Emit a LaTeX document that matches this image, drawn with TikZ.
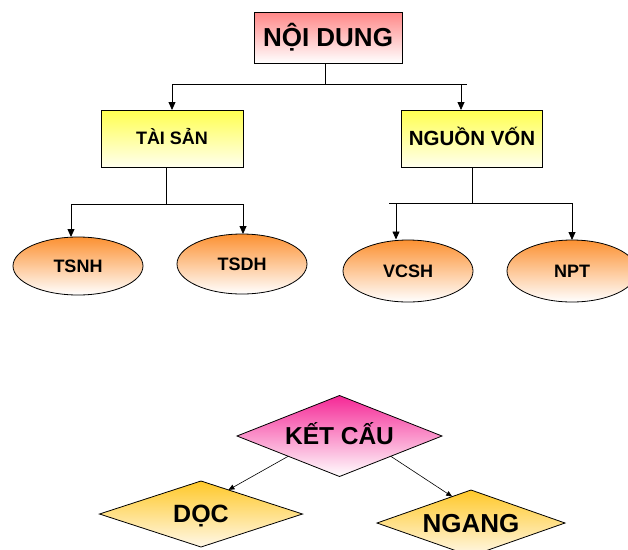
\documentclass[tikz,border=0pt]{standalone}
\usepackage{fontspec}
\setmainfont{Liberation Sans}[BoldFont={Liberation Sans Bold}]
\usetikzlibrary{shapes.geometric,arrows.meta,calc}
\definecolor{salmon}{RGB}{255,135,135}
\definecolor{yel}{RGB}{255,255,80}
\definecolor{yelb}{RGB}{255,255,238}
\definecolor{orng}{RGB}{252,145,50}
\definecolor{mag}{RGB}{245,40,150}
\definecolor{gold}{RGB}{255,200,40}
\definecolor{goldb}{RGB}{255,248,232}
\tikzset{
  box/.style={draw=black, line width=1pt, rectangle, inner sep=0pt, outer sep=0pt, text depth=0pt},
  oval/.style={draw=black, line width=0.8pt, ellipse, inner sep=0pt, outer sep=0pt,
    minimum width=130pt, top color=orng, bottom color=white,
    font=\bfseries\fontsize{18}{18}\selectfont, text height=12.9pt, text depth=0pt},
  rhomb/.style={draw=black, line width=0.8pt, diamond, aspect=2.5, inner sep=0pt, outer sep=0pt,
    text depth=0pt},
  conn/.style={line width=0.8pt},
  arr/.style={line width=0.8pt, -{Triangle[length=8pt,width=7pt]}},
  thinarr/.style={line width=0.6pt, -{Triangle[length=6pt,width=5pt]}}
}
\begin{document}
\begin{tikzpicture}[x=1pt,y=-1pt]
\useasboundingbox (0,0) rectangle (628,549);
% top level
\node[box, top color=salmon, bottom color=white, minimum width=148pt, minimum height=51pt,
  font=\bfseries\fontsize{26}{26}\selectfont, text height=18.6pt] (noi) at (328,37.5) {NỘI DUNG};
\node[box, top color=yel, bottom color=yelb, minimum width=142pt, minimum height=57pt,
  font=\bfseries\fontsize{18}{18}\selectfont, text height=12.9pt] (taisan) at (172,138.5) {TÀI SẢN};
\node[box, top color=yel, bottom color=yelb, minimum width=141pt, minimum height=57pt,
  font=\bfseries\fontsize{20.5}{20.5}\selectfont, text height=14.7pt] (nguon) at (472,138.5) {NGUỒN VỐN};
% ellipses
\node[oval, minimum height=58pt] (tsnh) at (78,266) {TSNH};
\node[oval, minimum height=60pt] (tsdh) at (242,264) {TSDH};
\node[oval, minimum height=62pt] (vcsh) at (408,271) {VCSH};
\node[oval, minimum height=62pt] (npt) at (572,271) {NPT};
% connectors level 1
\coordinate (j1) at (325,84);
\coordinate (h1L) at (172,84);
\coordinate (h1R) at (467,84);
\coordinate (a1R) at (461,84);
\draw[conn] (j1 |- noi.south) -- (j1);
\draw[conn] (h1L) -- (h1R);
\draw[arr] (h1L) -- (h1L |- taisan.north);
\draw[arr] (a1R) -- (a1R |- nguon.north);
% connectors level 2 left
\coordinate (j2) at (166,204);
\coordinate (h2L) at (71,204);
\coordinate (h2R) at (243,204);
\draw[conn] (j2 |- taisan.south) -- (j2);
\draw[conn] (h2L) -- (h2R);
\draw[arr] (h2L) -- (h2L |- tsnh.north);
\draw[arr] (h2R) -- (h2R |- tsdh.north);
% connectors level 2 right
\coordinate (j3) at (472,203);
\coordinate (h3L) at (389,203);
\coordinate (a3L) at (396,203);
\coordinate (a3E) at (396,239.5);
\coordinate (h3R) at (572,203);
\draw[conn] (j3 |- nguon.south) -- (j3);
\draw[conn] (h3L) -- (h3R);
\draw[arr] (a3L) -- (a3E);
\draw[arr] (h3R) -- (h3R |- npt.north);
% diamonds
\node[rhomb, top color=mag, bottom color=white, minimum width=205pt, minimum height=81pt,
  font=\bfseries\fontsize{24.5}{24.5}\selectfont, text height=17.5pt] (kc) at (339.5,436) {KẾT CẤU};
\node[rhomb, top color=gold, bottom color=goldb, minimum width=203pt, minimum height=66pt,
  font=\bfseries\fontsize{25}{25}\selectfont, text height=17.9pt] (doc) at (201,514) {DỌC};
\node[rhomb, top color=gold, bottom color=goldb, minimum width=188pt, minimum height=66pt,
  font=\bfseries\fontsize{26}{26}\selectfont, text height=18.6pt] (ng) at (471,523) {NGANG};
\draw[thinarr] (kc.south west) -- ($(doc.north)!0.27!(doc.east)$);
\draw[thinarr] (kc.south east) -- ($(ng.north)!0.2!(ng.west)$);
\end{tikzpicture}
\end{document}
